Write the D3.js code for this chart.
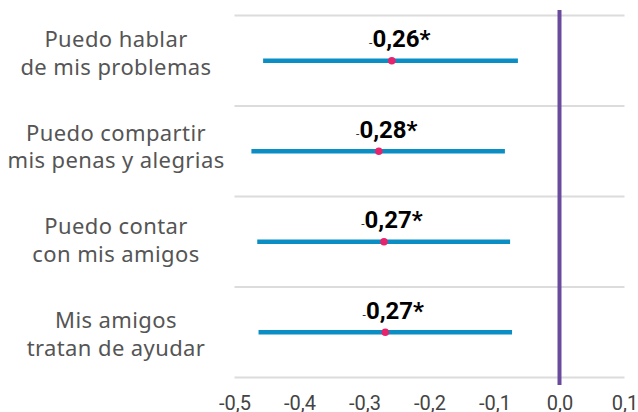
<!DOCTYPE html>
<html lang="es">
<head>
<meta charset="UTF-8">
<script src="https://d3js.org/d3.v7.min.js"></script>
<title>Forest plot</title>
<style>
  body { margin: 0; background: #fff; }
  .lbl { font-family: "Noto Sans", sans-serif; font-size: 22px; letter-spacing: 0.4px; fill: #555; }
  .val { font-family: Roboto, sans-serif; font-weight: 700; fill: #000; }
  .tick text { font-family: Roboto, sans-serif; font-size: 20px; fill: #444; }
</style>
</head>
<body>
<script>
// data
var items = [
  ["Puedo hablar", "de mis problemas"],
  ["Puedo compartir", "mis penas y alegrias"],
  ["Puedo contar", "con mis amigos"],
  ["Mis amigos", "tratan de ayudar"]
];
var estimate = [-0.258, -0.278, -0.270, -0.268];
var lower    = [-0.456, -0.474, -0.465, -0.463];
var upper    = [-0.064, -0.084, -0.076, -0.073];
var signif   = [true, true, true, true];
var xTicks   = [-0.5, -0.4, -0.3, -0.2, -0.1, 0.0, 0.1];

var width = 638, height = 412;

var rows = items.map(function(d, i) {
  return { key: i, lines: d, est: estimate[i], lo: lower[i], hi: upper[i], sig: signif[i] };
});

var x = d3.scaleLinear().domain([-0.5, 0.1]).range([234.5, 624.5]);
var y = d3.scaleBand().domain(rows.map(function(d){ return d.key; })).range([15.5, 377.5]);
// the text labels sit a bit lower than the row centres further down
var labelY = d3.scalePoint().domain(rows.map(function(d){ return d.key; })).range([47, 328]);

var es = d3.formatLocale({ decimal: ",", thousands: ".", grouping: [3], currency: ["", ""] , minus: "-"});
var fmt1 = es.format(".1f"), fmt2 = es.format(".2f");

var svg = d3.select("body").append("svg")
  .attr("width", width).attr("height", height);

// horizontal separators
var edges = y.domain().map(function(k){ return y(k); }).concat([y.range()[1]]);
svg.selectAll("line.grid").data(edges).enter().append("line")
  .attr("class", "grid")
  .attr("x1", x.range()[0]).attr("x2", x.range()[1])
  .attr("y1", function(d){ return d; }).attr("y2", function(d){ return d; })
  .style("stroke", "#dcdcdc").style("stroke-width", 2);

// zero line
svg.append("line")
  .attr("x1", x(0)).attr("x2", x(0))
  .attr("y1", 10).attr("y2", 385)
  .style("stroke", "#6a4a9e").style("stroke-width", 4);

var g = svg.selectAll("g.row").data(rows).enter().append("g").attr("class", "row");

g.append("line")
  .attr("x1", function(d){ return x(d.lo); })
  .attr("x2", function(d){ return x(d.hi); })
  .attr("y1", function(d){ return y(d.key) + y.bandwidth() / 2; })
  .attr("y2", function(d){ return y(d.key) + y.bandwidth() / 2; })
  .style("stroke", "#0a8ec4").style("stroke-width", 4.5);

g.append("circle")
  .attr("cx", function(d){ return x(d.est); })
  .attr("cy", function(d){ return y(d.key) + y.bandwidth() / 2; })
  .attr("r", 3.8)
  .style("fill", "#e6246e");

var vt = g.append("text").attr("class", "val")
  .attr("x", function(d){ return x(d.est) + 8; })
  .attr("y", function(d){ return y(d.key) + y.bandwidth() / 2 - 13.5; })
  .attr("text-anchor", "middle");
vt.append("tspan").style("font-size", "12px").style("font-weight", 400).style("fill", "#333")
  .text(function(d){ return d.est < 0 ? "-" : ""; });
vt.append("tspan").style("font-size", "24px")
  .text(function(d){ return fmt2(Math.abs(d.est)) + (d.sig ? "*" : ""); });

// category labels
var lt = g.append("text").attr("class", "lbl").attr("text-anchor", "middle");
lt.selectAll("tspan").data(function(d){ return d.lines.map(function(s, j){ return { s: s, j: j, k: d.key }; }); })
  .enter().append("tspan")
  .attr("x", 116)
  .attr("y", function(d){ return labelY(d.k) + d.j * 27.5; })
  .text(function(d){ return d.s; });

// x axis
var xAxis = d3.axisBottom(x).tickValues(xTicks).tickSize(0).tickPadding(0)
  .tickFormat(function(d){ return fmt1(d); });
var ax = svg.append("g").attr("transform", "translate(0,394)").call(xAxis);
ax.select(".domain").remove();
ax.selectAll(".tick text").attr("dy", "0.8em");
</script>
</body>
</html>
